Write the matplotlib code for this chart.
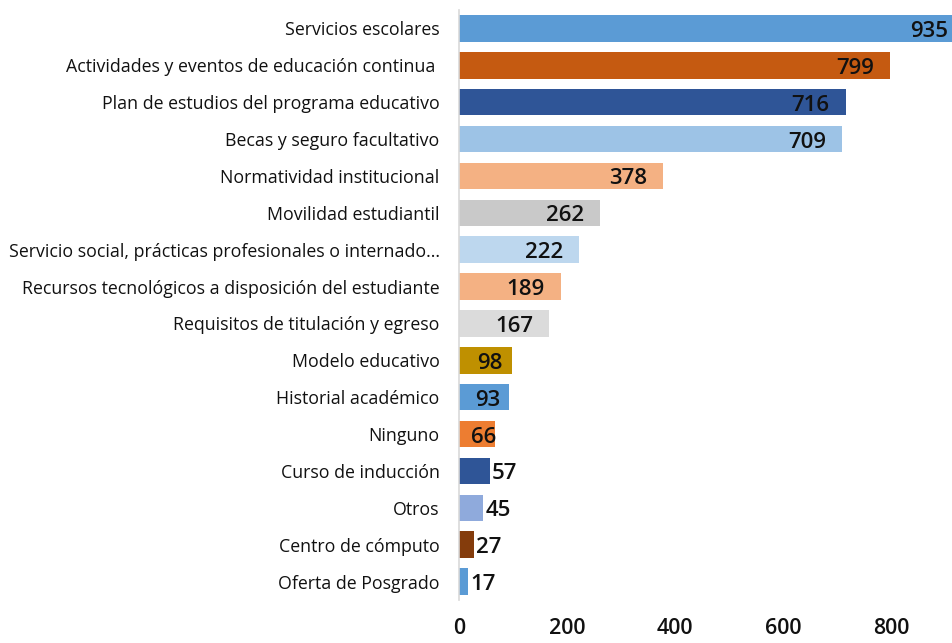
import matplotlib
matplotlib.use("Agg")
import matplotlib.pyplot as plt

categories = [
    "Servicios escolares",
    "Actividades y eventos de educación continua ",
    "Plan de estudios del programa educativo",
    "Becas y seguro facultativo",
    "Normatividad institucional",
    "Movilidad estudiantil",
    "Servicio social, prácticas profesionales o internado...",
    "Recursos tecnológicos a disposición del estudiante",
    "Requisitos de titulación y egreso",
    "Modelo educativo",
    "Historial académico",
    "Ninguno",
    "Curso de inducción",
    "Otros",
    "Centro de cómputo",
    "Oferta de Posgrado",
]
values = [935, 799, 716, 709, 378, 262, 222, 189, 167, 98, 93, 66, 57, 45, 27, 17]
colors = ["#5B9BD5", "#C55A11", "#2F5597", "#9DC3E6", "#F4B183", "#C9C9C9",
          "#BDD7EE", "#F4B183", "#DBDBDB", "#BF9000", "#5B9BD5", "#ED7D31",
          "#2F5597", "#8FAADC", "#843C0C", "#5B9BD5"]
xticks = [0, 200, 400, 600, 800]

plt.rcParams['font.family'] = ['Open Sans', 'DejaVu Sans']

fig = plt.figure(figsize=(9.52, 6.43), dpi=100)
ax = fig.add_axes([459/952, 1 - 600/643, 1 - 459/952, 590/643])

ypos = list(range(len(categories)))
ax.barh(ypos, values, height=0.72, color=colors, zorder=2)
ax.set_ylim(len(categories) - 0.5, -0.5)
ax.set_xlim(0, 913)

ax.set_yticks(ypos)
ax.set_yticklabels(categories, fontsize=12.8, color="#111111")
ax.set_xticks(xticks)
ax.set_xticklabels([str(t) for t in xticks], fontsize=15.5, fontweight=600, color="#111111")
ax.tick_params(axis='y', length=0, pad=14)
ax.tick_params(axis='x', length=0, pad=13)

for s in ['top', 'right', 'bottom']:
    ax.spines[s].set_visible(False)
ax.spines['left'].set_color("#D9D9D9")
ax.spines['left'].set_linewidth(1.2)

for y, v in zip(ypos, values):
    if v >= 150:
        off, ha = -16, 'right'
    elif v >= 90:
        off, ha = -9, 'right'
    elif v >= 60:
        off, ha = 2, 'right'
    else:
        off, ha = 2, 'left'
    ax.annotate(str(v), (v, y), xytext=(off, -3), textcoords='offset pixels',
                ha=ha, va='center', fontsize=16, fontweight=600,
                color="#111111", annotation_clip=False)

fig.savefig("out.png", dpi=100)
